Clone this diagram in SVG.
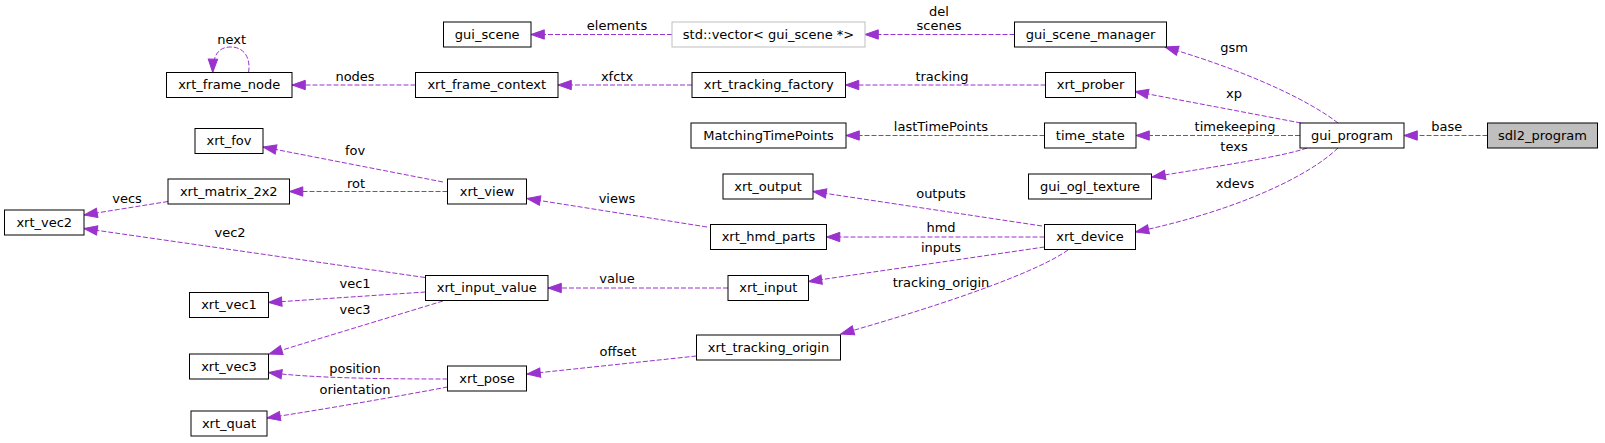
<svg xmlns="http://www.w3.org/2000/svg" width="1605" height="443" viewBox="0 0 1605 443">
<style>
.n rect{fill:#fff;stroke:#000;stroke-width:1}
.n text,.l{font-family:"DejaVu Sans","Liberation Sans",sans-serif;font-size:13px;fill:#000}
.n text{text-anchor:middle}
.l{text-anchor:middle}
.e path{fill:none;stroke:#9a32cd;stroke-width:1;stroke-dasharray:5,2;marker-end:url(#a)}
</style>
<defs>
<marker id="a" markerUnits="userSpaceOnUse" markerWidth="16" markerHeight="12" refX="13.3" refY="5.67" orient="auto" overflow="visible">
<path d="M0,1 L13.3,5.67 L0,10.33 z" fill="#9a32cd" stroke="#9a32cd" stroke-width="1"/>
</marker>
</defs>
<rect width="1605" height="443" fill="#fff"/>
<g id="edges" class="e">
<path d="M1487.5,135.5 L1404,135.5"/>
<path d="M1338,123 C1315,105 1260,75 1165,47"/>
<path d="M1301,123 L1135,91.5"/>
<path d="M1300,135.5 L1136,135.5"/>
<path d="M1307,148 C1285,156 1220,166 1152,177"/>
<path d="M1338,148 C1310,175 1240,210 1135.5,232"/>
<path d="M1014.5,34.5 L865,34.5"/>
<path d="M672,34.5 L531,34.5"/>
<path d="M1045.5,85 L845.5,85"/>
<path d="M692,85 L558,85"/>
<path d="M415.5,85 L292,85"/>
<path d="M248.5,72.5 C251,58 244,47 231,47 C219,47 213,54 212.7,72.5"/>
<path d="M1044.5,135.5 L846,135.5"/>
<path d="M443,182 L263,147"/>
<path d="M447.5,191.5 L289.5,191.5"/>
<path d="M168,201.5 L84,215"/>
<path d="M425,277.5 L84,228.5"/>
<path d="M707,227 L527,198.5"/>
<path d="M1042,226 L813,191.5"/>
<path d="M1044.5,237 L826.5,237"/>
<path d="M1044.5,247 L808.5,281.5"/>
<path d="M1068,250 C1040,270 960,300 840.7,334"/>
<path d="M728,288 L548,288"/>
<path d="M425.5,292 L268.5,302.5"/>
<path d="M443,301 L269,354"/>
<path d="M696.5,356 L527,374"/>
<path d="M447.5,379 C380,379 310,378 268.5,372.5"/>
<path d="M447.5,387 C400,396 320,410 267,418"/>
</g>
<g id="edge-labels">
<text class="l" x="1446.7" y="131">base</text>
<text class="l" x="1234" y="52">gsm</text>
<text class="l" x="1234" y="98">xp</text>
<text class="l" x="1235" y="131">timekeeping</text>
<text class="l" x="1234" y="151">texs</text>
<text class="l" x="1235" y="188">xdevs</text>
<text class="l" x="939" y="16">del</text>
<text class="l" x="939" y="30">scenes</text>
<text class="l" x="617" y="30">elements</text>
<text class="l" x="942" y="81">tracking</text>
<text class="l" x="617" y="81">xfctx</text>
<text class="l" x="355" y="81">nodes</text>
<text class="l" x="231.7" y="43.5">next</text>
<text class="l" x="941" y="131">lastTimePoints</text>
<text class="l" x="355" y="155">fov</text>
<text class="l" x="356" y="188">rot</text>
<text class="l" x="127" y="203">vecs</text>
<text class="l" x="230" y="237">vec2</text>
<text class="l" x="617" y="203">views</text>
<text class="l" x="941" y="198">outputs</text>
<text class="l" x="941" y="232">hmd</text>
<text class="l" x="941" y="252">inputs</text>
<text class="l" x="941" y="287">tracking_origin</text>
<text class="l" x="617" y="283">value</text>
<text class="l" x="355" y="288">vec1</text>
<text class="l" x="355" y="314">vec3</text>
<text class="l" x="618" y="356">offset</text>
<text class="l" x="355" y="373">position</text>
<text class="l" x="355" y="394">orientation</text>
</g>
<g id="gui_scene" class="n"><rect x="443.5" y="22" width="87.5" height="25"/><text x="487.25" y="38.5">gui_scene</text></g>
<g id="std_vector" class="n"><rect x="672" y="22" width="193" height="25" style="stroke:#bfbfbf"/><text x="768.5" y="38.5">std::vector&lt; gui_scene *&gt;</text></g>
<g id="gui_scene_manager" class="n"><rect x="1014.5" y="22" width="152" height="25"/><text x="1090.5" y="38.5">gui_scene_manager</text></g>
<g id="xrt_frame_node" class="n"><rect x="166.5" y="72.5" width="125.5" height="25"/><text x="229.25" y="89">xrt_frame_node</text></g>
<g id="xrt_frame_context" class="n"><rect x="415.5" y="72.5" width="142.5" height="25"/><text x="486.75" y="89">xrt_frame_context</text></g>
<g id="xrt_tracking_factory" class="n"><rect x="692" y="72.5" width="153.5" height="25"/><text x="768.75" y="89">xrt_tracking_factory</text></g>
<g id="xrt_prober" class="n"><rect x="1045.5" y="72.5" width="90" height="25"/><text x="1090.5" y="89">xrt_prober</text></g>
<g id="xrt_fov" class="n"><rect x="195" y="128.5" width="68" height="25"/><text x="229" y="145">xrt_fov</text></g>
<g id="MatchingTimePoints" class="n"><rect x="691" y="123" width="155" height="25"/><text x="768.5" y="139.5">MatchingTimePoints</text></g>
<g id="time_state" class="n"><rect x="1044.5" y="123" width="91.5" height="25"/><text x="1090.25" y="139.5">time_state</text></g>
<g id="gui_program" class="n"><rect x="1300" y="123" width="104" height="25"/><text x="1352" y="139.5">gui_program</text></g>
<g id="sdl2_program" class="n"><rect x="1487.5" y="123" width="110" height="25" style="fill:#bfbfbf"/><text x="1542.5" y="139.5">sdl2_program</text></g>
<g id="xrt_output" class="n"><rect x="723" y="174" width="90" height="25"/><text x="768" y="190.5">xrt_output</text></g>
<g id="gui_ogl_texture" class="n"><rect x="1028.5" y="174" width="123" height="25"/><text x="1090" y="190.5">gui_ogl_texture</text></g>
<g id="xrt_matrix_2x2" class="n"><rect x="168" y="179" width="121.5" height="25"/><text x="228.75" y="195.5">xrt_matrix_2x2</text></g>
<g id="xrt_view" class="n"><rect x="447.5" y="179" width="79" height="25"/><text x="487" y="195.5">xrt_view</text></g>
<g id="xrt_vec2" class="n"><rect x="4.5" y="210" width="79.5" height="25"/><text x="44.25" y="226.5">xrt_vec2</text></g>
<g id="xrt_hmd_parts" class="n"><rect x="710.5" y="224.5" width="116" height="25"/><text x="768.5" y="241">xrt_hmd_parts</text></g>
<g id="xrt_device" class="n"><rect x="1044.5" y="224.5" width="91" height="25"/><text x="1090" y="241">xrt_device</text></g>
<g id="xrt_input_value" class="n"><rect x="425.5" y="275.5" width="122.5" height="25"/><text x="486.75" y="292">xrt_input_value</text></g>
<g id="xrt_input" class="n"><rect x="728" y="275.5" width="80.5" height="25"/><text x="768.25" y="292">xrt_input</text></g>
<g id="xrt_vec1" class="n"><rect x="189.5" y="292.5" width="79" height="25"/><text x="229" y="309">xrt_vec1</text></g>
<g id="xrt_tracking_origin" class="n"><rect x="696.5" y="335" width="144" height="25"/><text x="768.5" y="351.5">xrt_tracking_origin</text></g>
<g id="xrt_vec3" class="n"><rect x="189.5" y="354" width="79" height="25"/><text x="229" y="370.5">xrt_vec3</text></g>
<g id="xrt_pose" class="n"><rect x="447.5" y="366" width="79" height="25"/><text x="487" y="382.5">xrt_pose</text></g>
<g id="xrt_quat" class="n"><rect x="191" y="411" width="76" height="25"/><text x="229" y="427.5">xrt_quat</text></g>
</svg>
